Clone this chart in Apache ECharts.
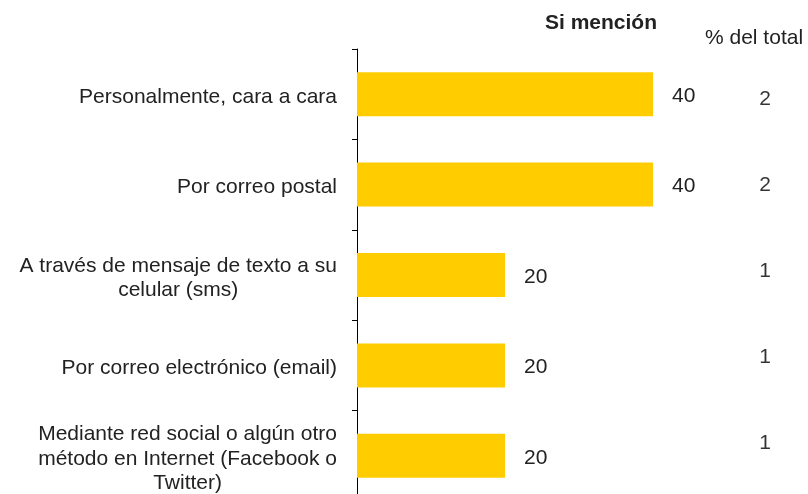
<!DOCTYPE html>
<html>
<head>
<meta charset="utf-8">
<script src="https://cdn.jsdelivr.net/npm/echarts@6/dist/echarts.min.js"></script>
<style>
  html, body { margin: 0; padding: 0; background: #fff; }
  #bar-pic { width: 808px; height: 494px; }
</style>
</head>
<body>
<div id="bar-pic"></div>
<script>
// datos
const categories = [
  'Personalmente, cara a cara',
  'Por correo postal',
  'A través de mensaje de texto a su\ncelular (sms)',
  'Por correo electrónico (email)',
  'Mediante red social o algún otro\nmétodo en Internet (Facebook o\nTwitter)'
]
const mentions = [40, 40, 20, 20, 20]
const pctTotal = [2, 2, 1, 1, 1]

const FONT = '"Liberation Sans", Arial, sans-serif'
const TEXT = '#222'

const myChart = echarts.init(document.getElementById('bar-pic'))

const option = {
  animation: false,
  title: [
    {
      text: 'Si mención',
      left: 545,
      top: 13,
      padding: 0,
      textStyle: { fontFamily: FONT, fontSize: 21, fontWeight: 'bold', color: TEXT }
    },
    {
      text: '% del total',
      left: 705,
      top: 28,
      padding: 0,
      textStyle: { fontFamily: FONT, fontSize: 21, fontWeight: 'normal', color: TEXT }
    }
  ],
  grid: [
    { left: 357, top: 49, width: 444, height: 452, outerBoundsMode: 'none' },
    { left: 740, top: 56, width: 50, height: 430, outerBoundsMode: 'none' }
  ],
  xAxis: [
    { gridIndex: 0, type: 'value', min: 0, max: 60, show: false },
    { gridIndex: 1, type: 'value', min: 0, max: 2, show: false }
  ],
  yAxis: [
    {
      gridIndex: 0,
      type: 'category',
      inverse: true,
      data: categories,
      axisLine: { show: true, lineStyle: { color: '#000', width: 1 } },
      axisTick: { show: true, length: 5, lineStyle: { color: '#000' } },
      axisLabel: {
        margin: 20,
        align: 'right',
        padding: [6, 0, 0, 0],
        formatter: function (v) {
          return v.split('\n').map(function (s) { return '{c|' + s + '}' }).join('\n')
        },
        rich: {
          c: { align: 'center', fontFamily: FONT, fontSize: 21, lineHeight: 24.5, color: TEXT }
        }
      }
    },
    {
      gridIndex: 1,
      type: 'category',
      inverse: true,
      data: categories,
      show: false
    }
  ],
  series: [
    {
      name: 'Si mención',
      type: 'bar',
      xAxisIndex: 0,
      yAxisIndex: 0,
      barWidth: 44,
      itemStyle: { color: '#FFCC00' },
      label: {
        show: true,
        position: 'right',
        distance: 19,
        offset: [0, 2],
        fontFamily: FONT,
        fontSize: 21,
        color: TEXT
      },
      data: mentions
    },
    {
      name: '% del total',
      type: 'scatter',
      xAxisIndex: 1,
      yAxisIndex: 1,
      symbolSize: 1,
      itemStyle: { color: 'rgba(0,0,0,0)' },
      label: {
        show: true,
        position: 'inside',
        formatter: function (p) { return String(p.data.v) },
        fontFamily: FONT,
        fontSize: 21,
        color: '#000'
      },
      data: pctTotal.map(function (v, i) { return { value: [1, i], v: v } })
    }
  ]
}

myChart.setOption(option)
</script>
</body>
</html>
